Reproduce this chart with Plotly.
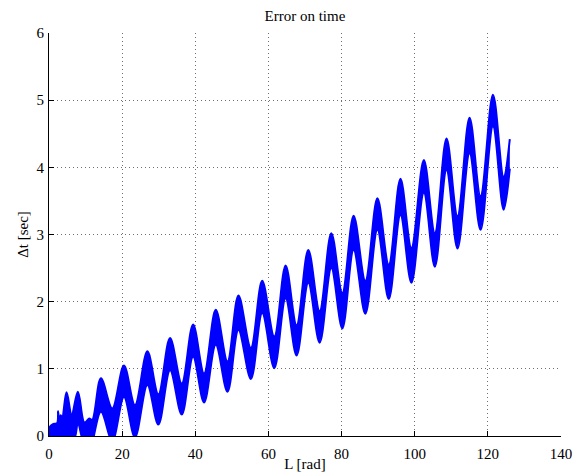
import plotly.graph_objects as go

# Upper edge of the Δt band (turning points along L)
L_upper = [0.0, 0.3, 1.2, 2.2, 2.5, 2.8, 3.2, 3.6, 4.8, 6.2,
           7.9, 9.7, 11.0, 11.8, 14.2, 17.3, 20.5, 23.5, 26.9, 29.9,
           33.1, 36.3, 39.4, 42.4, 45.6, 48.8, 51.8, 55.2, 58.3, 61.6,
           64.7, 67.7, 70.9, 74.0, 77.2, 80.2, 83.3, 86.5, 89.8, 92.9,
           96.1, 99.1, 102.5, 105.5, 108.7, 111.7, 115.0, 118.0, 121.4, 124.3,
           126.0]
dt_upper = [0.0, 0.14, 0.18, 0.19, 0.37, 0.20, 0.31, 0.28, 0.65, 0.32,
            0.66, 0.20, 0.26, 0.24, 0.86, 0.41, 1.05, 0.46, 1.26, 0.62,
            1.46, 0.78, 1.66, 0.93, 1.88, 1.11, 2.09, 1.31, 2.31, 1.48,
            2.54, 1.65, 2.77, 1.86, 3.02, 2.13, 3.28, 2.31, 3.54, 2.55,
            3.83, 2.80, 4.11, 3.02, 4.43, 3.27, 4.74, 3.57, 5.08, 3.86,
            4.42]

# Lower edge of the Δt band
L_lower = [0.0, 4.0, 6.8, 7.9, 9.2, 11.0, 14.2, 17.3, 20.5, 23.5,
           26.9, 29.9, 33.1, 36.3, 39.4, 42.4, 45.6, 48.8, 51.8, 55.2,
           58.3, 61.6, 64.7, 67.7, 70.9, 74.0, 77.2, 80.2, 83.3, 86.5,
           89.8, 92.9, 96.1, 99.1, 102.5, 105.5, 108.7, 111.7, 115.0, 118.0,
           121.4, 124.3, 126.0]
dt_lower = [-0.10, -0.10, -0.05, 0.19, -0.05, -0.20, 0.36, -0.07, 0.58, -0.02,
            0.76, 0.17, 0.98, 0.32, 1.18, 0.50, 1.36, 0.66, 1.58, 0.85,
            1.83, 1.01, 2.05, 1.20, 2.28, 1.39, 2.50, 1.60, 2.77, 1.82,
            3.07, 2.04, 3.29, 2.28, 3.62, 2.52, 3.96, 2.79, 4.21, 3.07,
            4.61, 3.37, 3.98]

x_ticks = [0, 20, 40, 60, 80, 100, 120, 140]
y_ticks = [0, 1, 2, 3, 4, 5, 6]

BLUE = "#0000ff"
FONT = "Liberation Serif"

fig = go.Figure()
fig.add_trace(go.Scatter(
    x=L_lower, y=dt_lower, mode="lines",
    line=dict(color=BLUE, width=2, shape="spline", smoothing=1.0),
    hoverinfo="skip", showlegend=False,
))
fig.add_trace(go.Scatter(
    x=L_upper, y=dt_upper, mode="lines",
    line=dict(color=BLUE, width=2, shape="spline", smoothing=1.0),
    fill="tonexty", fillcolor=BLUE,
    hoverinfo="skip", showlegend=False,
))

axis_common = dict(
    showline=True, linecolor="black", linewidth=1, mirror=False,
    ticks="inside", ticklen=5, tickcolor="black", tickwidth=1,
    showgrid=True, gridcolor="#707070", gridwidth=1, griddash="1px,3px",
    zeroline=False, automargin=False,
    tickfont=dict(family=FONT, size=15, color="black"),
)

fig.update_layout(
    width=583, height=472,
    margin=dict(l=49, r=22, t=33, b=36),
    paper_bgcolor="white", plot_bgcolor="white",
    font=dict(family=FONT, size=15, color="black"),
    title=dict(text="Error on time", x=0.523, xanchor="center",
               y=0.966, yanchor="middle", yref="container",
               font=dict(family=FONT, size=15, color="black")),
    xaxis=dict(range=[0, 140], tickvals=x_ticks, ticklabelstandoff=4,
               title=dict(text="L [rad]", standoff=0,
                          font=dict(family=FONT, size=15)),
               **axis_common),
    yaxis=dict(range=[0, 6], tickvals=y_ticks, ticklabelstandoff=1,
               title=dict(text="Δt [sec]", standoff=4,
                          font=dict(family=FONT, size=15)),
               **axis_common),
)

fig.write_html("out.html")
